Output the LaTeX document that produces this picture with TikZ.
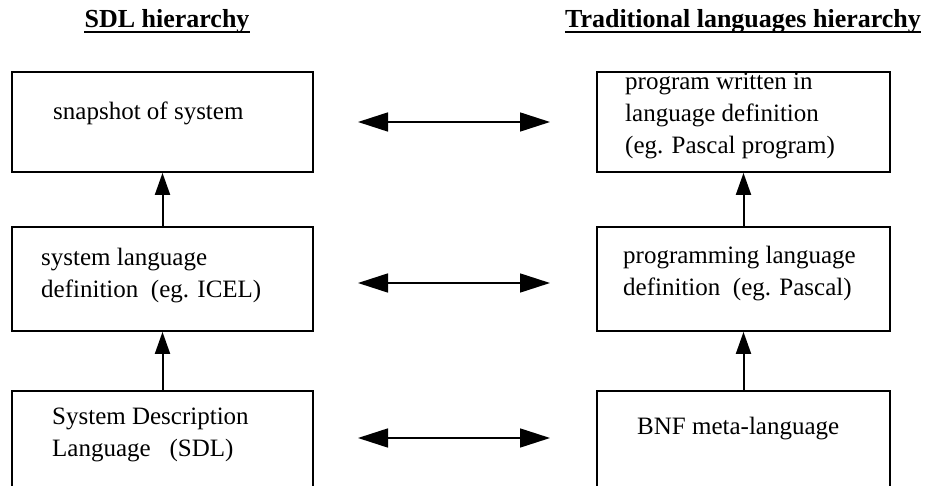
\documentclass[tikz,border=0pt]{standalone}
\usepackage{fontspec}
\setmainfont{Liberation Serif}
\usetikzlibrary{arrows.meta,calc}
\begin{document}
\begin{tikzpicture}[x=1pt,y=-1pt,
  box/.style={draw=black,line width=1.8pt,rectangle,inner sep=0pt,minimum width=301pt},
  rbox/.style={box,minimum width=293pt},
  txt/.style={anchor=base west,inner sep=0pt,font=\fontsize{25}{32}\selectfont},
  ttl/.style={anchor=base,inner sep=0pt,font=\fontsize{26}{30}\selectfont\bfseries},
  varrow/.style={line width=2pt,-{Triangle[length=22pt,width=15pt]}},
  harrow/.style={line width=1.6pt,{Triangle[length=30pt,width=19pt]}-{Triangle[length=30pt,width=19pt]}}]
\clip (0,0) rectangle (929,486);
\fill[white] (0,0) rectangle (929,486);
% titles
\node[ttl] (t1) at (167,28) {SDL hierarchy};
\node[ttl] (t2) at (743,28) {Traditional languages hierarchy};
\draw[line width=1.8pt] ($(t1.base west)+(0,4)$) -- ($(t1.base east)+(0,4)$);
\draw[line width=1.8pt] ($(t2.base west)+(0,4)$) -- ($(t2.base east)+(0,4)$);
% left boxes
\node[box,minimum height=100pt] (s1) at (162.5,122) {};
\node[box,minimum height=104pt] (s2) at (162.5,279) {};
\node[box,minimum height=120pt] (s3) at (162.5,451) {};
% right boxes
\node[rbox,minimum height=100pt] (p1) at (743.5,122) {};
\node[rbox,minimum height=104pt] (p2) at (743.5,279) {};
\node[rbox,minimum height=120pt] (p3) at (743.5,451) {};
% texts
\node[txt] (ts1) at (53,120) {snapshot of system};
\node[txt] (ts2) at (41,266) {\begin{tabular}[t]{@{}l@{}}system language\\definition\ \ (eg. ICEL)\end{tabular}};
\node[txt] (ts3) at (52,424) {\begin{tabular}[t]{@{}l@{}}System Description\\Language\ \ \ (SDL)\end{tabular}};
\node[txt] (tp1) at (625,90) {\begin{tabular}[t]{@{}l@{}}program written in\\language definition\\(eg. Pascal program)\end{tabular}};
\node[txt] (tp2) at (623,264) {\begin{tabular}[t]{@{}l@{}}programming language\\definition\ \ (eg. Pascal)\end{tabular}};
\node[txt] (tp3) at (637,434) {BNF meta-language};
% vertical arrows
\draw[varrow] (s2.north) -- (s1.south);
\draw[varrow] (s3.north) -- (s2.south);
\draw[varrow] (p2.north) -- (p1.south);
\draw[varrow] (p3.north) -- (p2.south);
% horizontal double arrows
\coordinate (h1a) at (358,122); \coordinate (h1b) at (550,122);
\coordinate (h2a) at (358,283); \coordinate (h2b) at (550,283);
\coordinate (h3a) at (358,438); \coordinate (h3b) at (550,438);
\draw[harrow] (h1a) -- (h1b);
\draw[harrow] (h2a) -- (h2b);
\draw[harrow] (h3a) -- (h3b);
\end{tikzpicture}
\end{document}
